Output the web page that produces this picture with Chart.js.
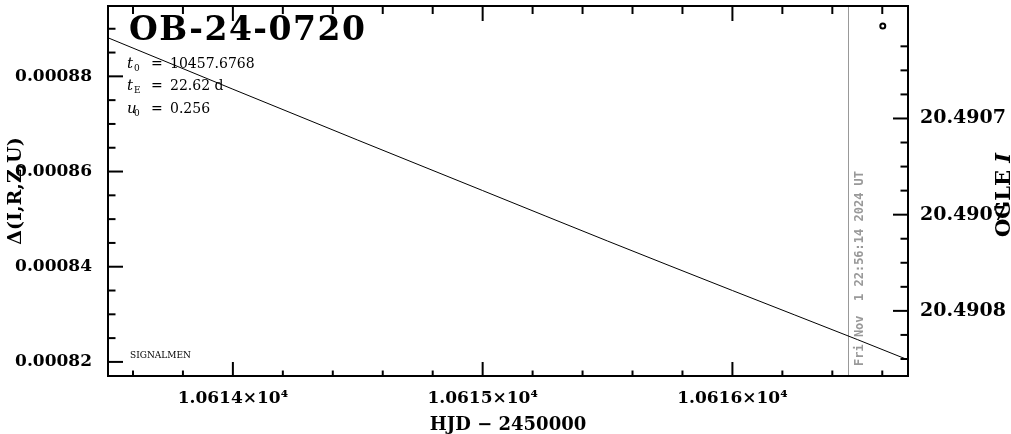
<!DOCTYPE html>
<html>
<head>
<meta charset="utf-8">
<script src="https://cdn.jsdelivr.net/npm/chart.js@4.4.1/dist/chart.umd.min.js"></script>
<style>
html, body { margin: 0; padding: 0; background: #fff; }
#wrap { width: 1011px; height: 434px; }
</style>
</head>
<body>
<div id="wrap"><canvas id="lc" width="1011" height="434"></canvas></div>
<script>
// model curve, HJD-2450000 vs delta flux
const hjd = [10613.5, 10614.0, 10614.5, 10615.0, 10615.5, 10616.0, 10616.5, 10616.7];
const deltaFlux = [0.0008881, 0.0008773, 0.0008666, 0.0008560, 0.0008454, 0.0008350, 0.0008247, 0.0008205];

// the one OGLE I point (top right)
const ogleHjd = [10616.602];
const ogleMag = [20.490652];

// labelled ticks
const hjdTicks = [10614, 10615, 10616];
const fluxTicks = [0.00082, 0.00084, 0.00086, 0.00088];
const magTicks = [20.4907, 20.49075, 20.4908];

const nowHjd = 10616.464;
const nowLabel = 'Fri Nov  1 22:56:14 2024 UT';
const eventName = 'OB-24-0720';
const params = [['t', '0', '10457.6768'], ['t', 'E', '22.62 d'], ['u', '0', '0.256']];

const SERIF = '"DejaVu Serif", serif';
const MONO = '"DejaVu Sans Mono", monospace';

function steps(lo, hi, step) {
    const out = [];
    for (let k = Math.ceil(lo / step); k * step <= hi; k++) out.push(k * step);
    return out;
}
function isMajor(v, majors, step) {
    return majors.some(m => Math.abs(m - v) < step / 10);
}
function line(ctx, x1, y1, x2, y2) {
    ctx.beginPath();
    ctx.moveTo(x1, y1);
    ctx.lineTo(x2, y2);
    ctx.stroke();
}
// no extra room for labels, the box is fixed
function noPad(s) {
    s.paddingTop = 0;
    s.paddingBottom = 0;
    s.paddingLeft = 0;
    s.paddingRight = 0;
}

// frame, inward ticks, texts
const framePlugin = {
    id: 'frame',
    beforeDatasetsDraw(chart) {
        const ctx = chart.ctx;
        const ca = chart.chartArea;
        ctx.save();
        ctx.fillStyle = '#000';
        ctx.textBaseline = 'alphabetic';
        ctx.textAlign = 'left';

        // event name
        ctx.font = 'bold 33px ' + SERIF;
        ctx.letterSpacing = '1.5px';
        ctx.fillText(eventName, 129, 39.5);
        ctx.letterSpacing = '0px';

        // parameters
        params.forEach(([sym, sub, val], i) => {
            const by = 67.5 + i * 22.5;
            ctx.font = 'italic 15px ' + SERIF;
            ctx.fillText(sym, 127, by);
            ctx.font = '9px ' + SERIF;
            ctx.fillText(sub, 134, by + 3);
            ctx.font = '14px ' + SERIF;
            ctx.fillText('=', 151, by);
            ctx.fillText(val, 170, by);
        });

        ctx.font = '9px ' + SERIF;
        ctx.fillText('SIGNALMEN', 130, 358);

        // right axis title, reads bottom to top
        ctx.save();
        ctx.translate(1010, 195);
        ctx.rotate(-Math.PI / 2);
        ctx.font = 'bold 21px ' + SERIF;
        const w1 = ctx.measureText('OGLE ').width;
        ctx.font = 'bold italic 21px ' + SERIF;
        const w2 = ctx.measureText('I').width;
        const x0 = -(w1 + w2) / 2;
        ctx.font = 'bold 21px ' + SERIF;
        ctx.fillText('OGLE ', x0, 0);
        ctx.font = 'bold italic 21px ' + SERIF;
        ctx.fillText('I', x0 + w1, 0);
        ctx.restore();

        // current time marker
        const xs = chart.scales.x;
        const nx = Math.round(xs.getPixelForValue(nowHjd)) + 0.5;
        ctx.strokeStyle = '#999';
        ctx.lineWidth = 1;
        line(ctx, nx, ca.top, nx, ca.bottom);
        ctx.save();
        ctx.translate(nx + 14.5, ca.bottom - 10);
        ctx.rotate(-Math.PI / 2);
        ctx.fillStyle = '#999';
        ctx.font = 'bold 12px ' + MONO;
        ctx.fillText(nowLabel, 0, 0);
        ctx.restore();
        ctx.restore();
    },
    afterDatasetsDraw(chart) {
        const ctx = chart.ctx;
        const {left, right, top, bottom} = chart.chartArea;
        const xs = chart.scales.x, ys = chart.scales.y, y2 = chart.scales.y2;
        ctx.save();
        ctx.strokeStyle = '#000';
        ctx.lineWidth = 2;
        ctx.strokeRect(left, top, right - left, bottom - top);

        for (const v of steps(xs.min, xs.max, 0.2)) {
            const px = xs.getPixelForValue(v);
            const maj = isMajor(v, hjdTicks, 0.2);
            line(ctx, px, bottom, px, bottom - (maj ? 14 : 5.5));
            line(ctx, px, top, px, top + (maj ? 15 : 8));
        }
        for (const v of steps(ys.min, ys.max, 0.000005)) {
            const py = ys.getPixelForValue(v);
            const maj = isMajor(v, fluxTicks, 0.000005);
            line(ctx, left, py, left + (maj ? 15 : 7.5), py);
        }
        for (const v of steps(y2.min, y2.max, 0.0000125)) {
            const py = y2.getPixelForValue(v);
            if (py < top + 20) continue;
            const maj = isMajor(v, magTicks, 0.0000125);
            line(ctx, right, py, right - (maj ? 15 : 7.5), py);
        }
        ctx.restore();
    }
};

const canvas = document.getElementById('lc');

let lcChart = new Chart(canvas, {
    data: {
        datasets: [{
            type: 'line',
            label: 'model',
            data: hjd.map((x, i) => ({x: x, y: deltaFlux[i]})),
            yAxisID: 'y',
            borderColor: '#000',
            borderWidth: 1,
            pointRadius: 0,
            cubicInterpolationMode: 'monotone'
        }, {
            type: 'scatter',
            label: 'OGLE I',
            data: ogleHjd.map((x, i) => ({x: x, y: ogleMag[i]})),
            yAxisID: 'y2',
            pointRadius: 2.5,
            borderWidth: 2,
            borderColor: '#000',
            backgroundColor: '#fff'
        }]
    },
    options: {
        responsive: false,
        animation: false,
        devicePixelRatio: 1,
        layout: { padding: { top: 1, left: 0, right: 0, bottom: 0 } },
        plugins: {
            legend: { display: false },
            tooltip: { enabled: false }
        },
        scales: {
            x: {
                type: 'linear',
                position: 'bottom',
                min: 10613.5,
                max: 10616.703,
                grid: { display: false, drawTicks: false },
                border: { display: false },
                afterBuildTicks: s => { s.ticks = hjdTicks.map(v => ({value: v})); },
                afterFit: s => { s.height = 58; noPad(s); },
                ticks: {
                    autoSkip: false,
                    maxRotation: 0,
                    padding: 12,
                    color: '#000',
                    font: { family: SERIF, size: 17, weight: 'bold' },
                    callback: v => (v / 1e4).toFixed(4) + '×10⁴'
                },
                title: {
                    display: true,
                    text: 'HJD − 2450000',
                    color: '#000',
                    padding: 0,
                    font: { family: SERIF, size: 18, weight: 'bold', lineHeight: 1 }
                }
            },
            y: {
                type: 'linear',
                position: 'left',
                min: 0.00081704,
                max: 0.00089478,
                grid: { display: false, drawTicks: false },
                border: { display: false },
                afterBuildTicks: s => { s.ticks = fluxTicks.map(v => ({value: v})); },
                afterFit: s => { s.width = 108; noPad(s); },
                ticks: {
                    autoSkip: false,
                    padding: 16,
                    color: '#000',
                    font: { family: SERIF, size: 17, weight: 'bold' },
                    callback: v => v.toFixed(5)
                },
                title: {
                    display: true,
                    text: 'Δ(I,R,Z,U)',
                    color: '#000',
                    padding: { top: 6.5, bottom: 0 },
                    font: { family: SERIF, size: 19, weight: 'bold', lineHeight: 1 }
                }
            },
            y2: {
                type: 'linear',
                position: 'right',
                reverse: true,
                min: 20.49064154,
                max: 20.49083385,
                grid: { display: false, drawTicks: false },
                border: { display: false },
                afterBuildTicks: s => { s.ticks = magTicks.map(v => ({value: v})); },
                afterFit: s => { s.width = 103; noPad(s); },
                ticks: {
                    autoSkip: false,
                    padding: 12,
                    color: '#000',
                    font: { family: SERIF, size: 19, weight: 'bold' },
                    callback: v => v.toFixed(4)
                }
            }
        }
    },
    plugins: [framePlugin]
});
</script>
</body>
</html>
